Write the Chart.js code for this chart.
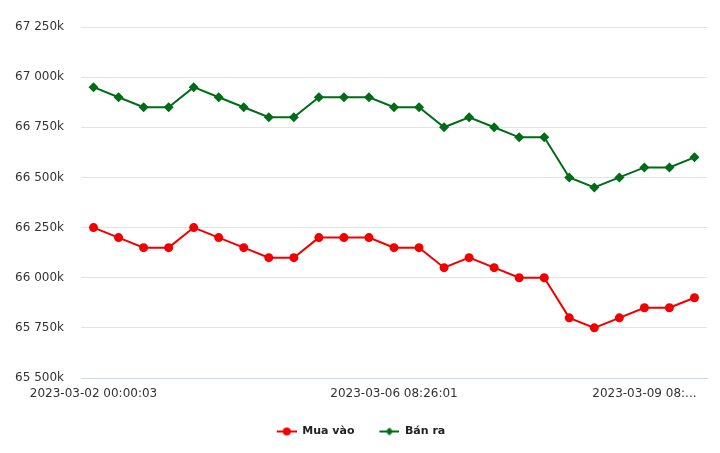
<!DOCTYPE html>
<html>
<head>
<meta charset="utf-8">
<script src="https://cdn.jsdelivr.net/npm/chart.js@4"></script>
<style>
  html, body { margin: 0; padding: 0; background: #fff; }
  #wrap { width: 720px; height: 453px; }
</style>
</head>
<body>
<div id="wrap"><canvas id="giaVang"></canvas></div>
<script>
// x labels: only the ones shown on the axis are known
const labels = [
  "2023-03-02 00:00:03", "", "", "", "", "", "", "", "", "", "", "",
  "2023-03-06 08:26:01", "", "", "", "", "", "", "", "", "",
  "2023-03-09 08:...", "", ""
];

// values in thousands
const muaVao = [66250, 66200, 66150, 66150, 66250, 66200, 66150, 66100, 66100, 66200, 66200, 66200, 66150, 66150, 66050, 66100, 66050, 66000, 66000, 65800, 65750, 65800, 65850, 65850, 65900];
const banRa = [66950, 66900, 66850, 66850, 66950, 66900, 66850, 66800, 66800, 66900, 66900, 66900, 66850, 66850, 66750, 66800, 66750, 66700, 66700, 66500, 66450, 66500, 66550, 66550, 66600];

const yMin = 65500;
const yMax = 67250;
const yStep = 250;

const RED = "#f20000";
const GREEN = "#016c17";

formatK = (v) => {
  return v.toString().replace(/\B(?=(\d{3})+(?!\d))/g, " ") + "k";
};

// legend marker: short line with the point on it (space on the left = gap between items)
function legendIcon(color, shape) {
  const c = document.createElement("canvas");
  c.width = 35;
  c.height = 12;
  const ctx = c.getContext("2d");
  ctx.strokeStyle = color;
  ctx.fillStyle = color;
  ctx.lineWidth = 2;
  ctx.beginPath();
  ctx.moveTo(15, 6);
  ctx.lineTo(35, 6);
  ctx.stroke();
  ctx.beginPath();
  if (shape === "circle") {
    ctx.arc(25, 6, 4, 0, Math.PI * 2);
  } else {
    ctx.moveTo(25, 2);
    ctx.lineTo(29, 6);
    ctx.lineTo(25, 10);
    ctx.lineTo(21, 6);
    ctx.closePath();
  }
  ctx.fill();
  return c;
}

const icons = [legendIcon(RED, "circle"), legendIcon(GREEN, "diamond")];

new Chart(document.getElementById("giaVang"), {
  type: "line",
  data: {
    labels: labels,
    datasets: [
      {
        label: "Mua vào",
        data: muaVao,
        borderColor: RED,
        backgroundColor: RED,
        borderWidth: 2,
        pointStyle: "circle",
        pointRadius: 4.5,
        pointBorderWidth: 0,
        tension: 0,
      },
      {
        label: "Bán ra",
        data: banRa,
        borderColor: GREEN,
        backgroundColor: GREEN,
        borderWidth: 2,
        pointStyle: "rectRot",
        pointRadius: 5,
        pointBorderWidth: 0,
        tension: 0,
      },
    ],
  },
  options: {
    responsive: true,
    maintainAspectRatio: false,
    animation: false,
    layout: {
      padding: { top: 27, right: 13, bottom: 6, left: 0 },
    },
    plugins: {
      tooltip: { enabled: false },
      legend: {
        position: "bottom",
        labels: {
          usePointStyle: true,
          pointStyleWidth: 35,
          padding: 10,
          color: "#222",
          font: { family: "'DejaVu Sans'", size: 11, weight: "bold" },
          generateLabels: (chart) =>
            chart.data.datasets.map((ds, i) => ({
              text: ds.label,
              pointStyle: icons[i],
              fillStyle: ds.borderColor,
              strokeStyle: ds.borderColor,
              lineWidth: 0,
              fontColor: "#222",
              hidden: false,
              datasetIndex: i,
            })),
        },
      },
    },
    scales: {
      x: {
        offset: true,
        grid: { display: false, drawTicks: false },
        border: { display: true, color: "#ccd6eb", width: 1 },
        ticks: {
          autoSkip: false,
          maxRotation: 0,
          padding: 9,
          color: "#333",
          font: { family: "'DejaVu Sans'", size: 12 },
        },
        afterFit: (scale) => {
          scale.height = 38;
        },
      },
      y: {
        min: yMin,
        max: yMax,
        grid: { color: "#e3e3e3", drawTicks: false },
        border: { display: false },
        ticks: {
          stepSize: yStep,
          padding: 17,
          color: "#333",
          font: { family: "'DejaVu Sans'", size: 12 },
          callback: (v) => formatK(v),
        },
        afterFit: (scale) => {
          scale.width = 81;
        },
      },
    },
  },
});
</script>
</body>
</html>
